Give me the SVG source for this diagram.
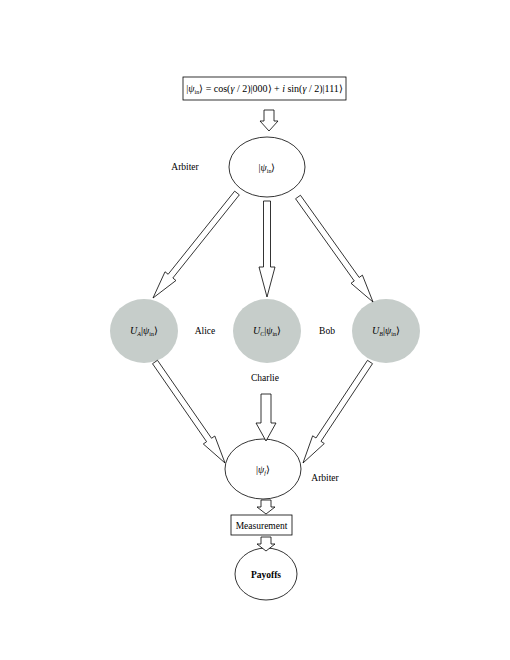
<svg xmlns="http://www.w3.org/2000/svg" width="510" height="660" viewBox="0 0 510 660">
<style>
.ln{fill:none;stroke:#000;stroke-width:0.8}
.wn{fill:#fff;stroke:#000;stroke-width:0.8}
.gn{fill:#c6cdca;stroke:none}
.ar{fill:#fff;stroke:#000;stroke-width:0.8;stroke-linejoin:miter}
text{font-family:"Liberation Serif","Times New Roman",serif;font-size:10px;fill:#000}
.lb{font-size:9.5px}
.m{font-style:italic}
.sub{font-size:6px}
.b{font-weight:bold}
</style>
<rect width="510" height="660" fill="#fff"/>
<g id="init-state">
<rect class="wn" x="183" y="77" width="163" height="23"/>
<text x="264.5" y="92" text-anchor="middle">|<tspan class="m">ψ</tspan><tspan class="sub" dy="2">in</tspan><tspan dy="-2">⟩ = cos(</tspan><tspan class="m">γ</tspan> / 2)|000⟩ + <tspan class="m">i</tspan> sin(<tspan class="m">γ</tspan> / 2)|111⟩</text>
</g>
<g id="arbiter-top">
<ellipse class="wn" cx="267" cy="167" rx="38" ry="30"/>
<text x="267" y="171" text-anchor="middle">|<tspan class="m">ψ</tspan><tspan class="sub" dy="2">in</tspan><tspan dy="-2">⟩</tspan></text>
<text class="lb" x="185" y="170" text-anchor="middle">Arbiter</text>
</g>
<g id="alice">
<ellipse class="gn" cx="144" cy="331" rx="34" ry="32"/>
<text x="144" y="334" text-anchor="middle"><tspan class="m">U</tspan><tspan class="sub m" dy="2">A</tspan><tspan dy="-2">|</tspan><tspan class="m">ψ</tspan><tspan class="sub" dy="2">in</tspan><tspan dy="-2">⟩</tspan></text>
<text class="lb" x="205" y="334" text-anchor="middle">Alice</text>
</g>
<g id="charlie">
<ellipse class="gn" cx="267" cy="331" rx="34" ry="32"/>
<text x="267" y="334" text-anchor="middle"><tspan class="m">U</tspan><tspan class="sub m" dy="2">C</tspan><tspan dy="-2">|</tspan><tspan class="m">ψ</tspan><tspan class="sub" dy="2">in</tspan><tspan dy="-2">⟩</tspan></text>
<text class="lb" x="265" y="381" text-anchor="middle">Charlie</text>
</g>
<g id="bob">
<ellipse class="gn" cx="386" cy="331" rx="34" ry="32"/>
<text x="386" y="334" text-anchor="middle"><tspan class="m">U</tspan><tspan class="sub m" dy="2">B</tspan><tspan dy="-2">|</tspan><tspan class="m">ψ</tspan><tspan class="sub" dy="2">in</tspan><tspan dy="-2">⟩</tspan></text>
<text class="lb" x="327" y="334" text-anchor="middle">Bob</text>
</g>
<g id="arbiter-bottom">
<ellipse class="wn" cx="263" cy="469" rx="38" ry="30"/>
<text x="263" y="473" text-anchor="middle">|<tspan class="m">ψ</tspan><tspan class="sub m" dy="2">f</tspan><tspan dy="-2">⟩</tspan></text>
<text class="lb" x="325" y="481" text-anchor="middle">Arbiter</text>
</g>
<g id="measurement">
<rect class="wn" x="231" y="515" width="61" height="20"/>
<text class="lb" x="261.5" y="528.5" text-anchor="middle">Measurement</text>
</g>
<g id="payoffs">
<ellipse class="wn" cx="266" cy="574" rx="31" ry="26"/>
<text class="lb b" x="266" y="578" text-anchor="middle">Payoffs</text>
</g>
<g id="connectors">
<polygon class="ar" points="264,110 264,121 260,121 269,131 278,121 274,121 274,110"/>
<polygon class="ar" points="234.66,191.13 168.15,274.27 165.03,271.77 153,298 175.95,280.51 172.83,278.01 239.34,194.87"/>
<polygon class="ar" points="263.5,201 263.5,267 259,267 267,297 275,267 270.5,267 270.5,201"/>
<polygon class="ar" points="295.56,198.74 354.28,280.95 351.02,283.28 373,302 362.42,275.14 359.16,277.47 300.44,195.26"/>
<polygon class="ar" points="152.53,363.71 206.58,441.70 203.30,443.98 225,463 214.80,436.00 211.52,438.28 157.47,360.29"/>
<polygon class="ar" points="367.50,360.34 315.98,438.01 312.65,435.80 303,463 324.31,443.54 320.98,441.33 372.50,363.66"/>
<polygon class="ar" points="261,394 261,423 256,423 266,441 276,423 271,423 271,394"/>
<polygon class="ar" points="261,500 261,507 257,507 266,514 275,507 271,507 271,500"/>
<polygon class="ar" points="261,537 261,544 257,544 266,551 275,544 271,544 271,537"/>
</g>
</svg>
